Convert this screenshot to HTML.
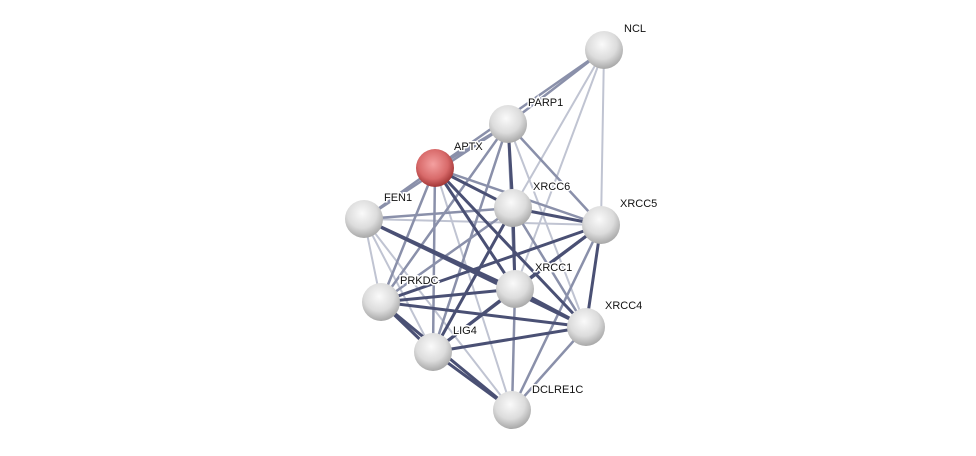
<!DOCTYPE html>
<html><head><style>body{margin:0;background:#fff}svg{display:block}</style></head>
<body>
<svg width="976" height="456" xmlns="http://www.w3.org/2000/svg" font-family="Liberation Sans, sans-serif" font-size="11">
<defs>
<radialGradient id="g" cx="0.45" cy="0.35" r="0.65"><stop offset="0" stop-color="#fafafa"/><stop offset="0.6" stop-color="#dcdcdc"/><stop offset="1" stop-color="#a8a8a8"/></radialGradient>
<radialGradient id="r" cx="0.45" cy="0.4" r="0.65"><stop offset="0" stop-color="#f4a0a0"/><stop offset="0.6" stop-color="#d86a6a"/><stop offset="1" stop-color="#962a2a"/></radialGradient>
</defs>
<g stroke-linecap="round">
<g stroke="#c0c4d2" stroke-width="2">
<line x1="604" y1="50" x2="513" y2="208"/><line x1="604" y1="50" x2="601" y2="225"/><line x1="604" y1="50" x2="515" y2="289"/>
<line x1="364" y1="219" x2="433" y2="352"/><line x1="364" y1="219" x2="381" y2="302"/><line x1="364" y1="219" x2="512" y2="410"/>
<line x1="508" y1="124" x2="586" y2="327"/><line x1="435" y1="168" x2="512" y2="410"/><line x1="381" y1="302" x2="512" y2="410"/>
<line x1="364" y1="219" x2="601" y2="225"/>
</g>
<g stroke="#8a90aa" stroke-width="2.5">
<line x1="604" y1="50" x2="508" y2="124"/><line x1="604" y1="50" x2="435" y2="168"/>
<line x1="508" y1="124" x2="601" y2="225"/><line x1="508" y1="124" x2="515" y2="289"/><line x1="508" y1="124" x2="381" y2="302"/><line x1="508" y1="124" x2="433" y2="352"/><line x1="508" y1="124" x2="364" y2="219"/>
<line x1="435" y1="168" x2="508" y2="124"/><line x1="435" y1="168" x2="364" y2="219"/><line x1="435" y1="168" x2="601" y2="225"/><line x1="435" y1="168" x2="433" y2="352"/><line x1="435" y1="168" x2="381" y2="302"/>
<line x1="364" y1="219" x2="513" y2="208"/><line x1="513" y1="208" x2="586" y2="327"/><line x1="601" y1="225" x2="512" y2="410"/><line x1="586" y1="327" x2="512" y2="410"/>
<line x1="515" y1="289" x2="512" y2="410"/><line x1="513" y1="208" x2="381" y2="302"/>
</g>
<g stroke="#4a5074" stroke-width="3">
<line x1="508" y1="124" x2="513" y2="208"/><line x1="513" y1="208" x2="601" y2="225"/><line x1="513" y1="208" x2="515" y2="289"/><line x1="513" y1="208" x2="433" y2="352"/>
<line x1="435" y1="168" x2="513" y2="208"/><line x1="435" y1="168" x2="515" y2="289"/><line x1="435" y1="168" x2="586" y2="327"/>
<line x1="364" y1="219" x2="515" y2="289"/><line x1="364" y1="219" x2="586" y2="327"/>
<line x1="601" y1="225" x2="381" y2="302"/><line x1="601" y1="225" x2="433" y2="352"/><line x1="601" y1="225" x2="586" y2="327"/><line x1="601" y1="225" x2="515" y2="289"/>
<line x1="381" y1="302" x2="515" y2="289"/><line x1="381" y1="302" x2="586" y2="327"/><line x1="381" y1="302" x2="433" y2="352"/>
<line x1="433" y1="352" x2="515" y2="289"/><line x1="433" y1="352" x2="586" y2="327"/><line x1="433" y1="352" x2="512" y2="410"/>
<line x1="515" y1="289" x2="586" y2="327"/><line x1="381" y1="302" x2="512" y2="410"/>
</g>
</g>
<g>
<circle cx="604" cy="50" r="19" fill="url(#g)"/>
<circle cx="508" cy="124" r="19" fill="url(#g)"/>
<circle cx="435" cy="168" r="19" fill="url(#r)"/>
<circle cx="364" cy="219" r="19" fill="url(#g)"/>
<circle cx="513" cy="208" r="19" fill="url(#g)"/>
<circle cx="601" cy="225" r="19" fill="url(#g)"/>
<circle cx="515" cy="289" r="19" fill="url(#g)"/>
<circle cx="381" cy="302" r="19" fill="url(#g)"/>
<circle cx="586" cy="327" r="19" fill="url(#g)"/>
<circle cx="433" cy="352" r="19" fill="url(#g)"/>
<circle cx="512" cy="410" r="19" fill="url(#g)"/>
</g>
<g fill="#111" stroke="#fff" stroke-width="3" paint-order="stroke">
<text x="624" y="32">NCL</text>
<text x="528" y="106">PARP1</text>
<text x="454" y="150">APTX</text>
<text x="384" y="201">FEN1</text>
<text x="533" y="190">XRCC6</text>
<text x="620" y="207">XRCC5</text>
<text x="535" y="271">XRCC1</text>
<text x="400" y="284">PRKDC</text>
<text x="605" y="309">XRCC4</text>
<text x="453" y="334">LIG4</text>
<text x="532" y="393">DCLRE1C</text>
</g>
</svg>
</body></html>
